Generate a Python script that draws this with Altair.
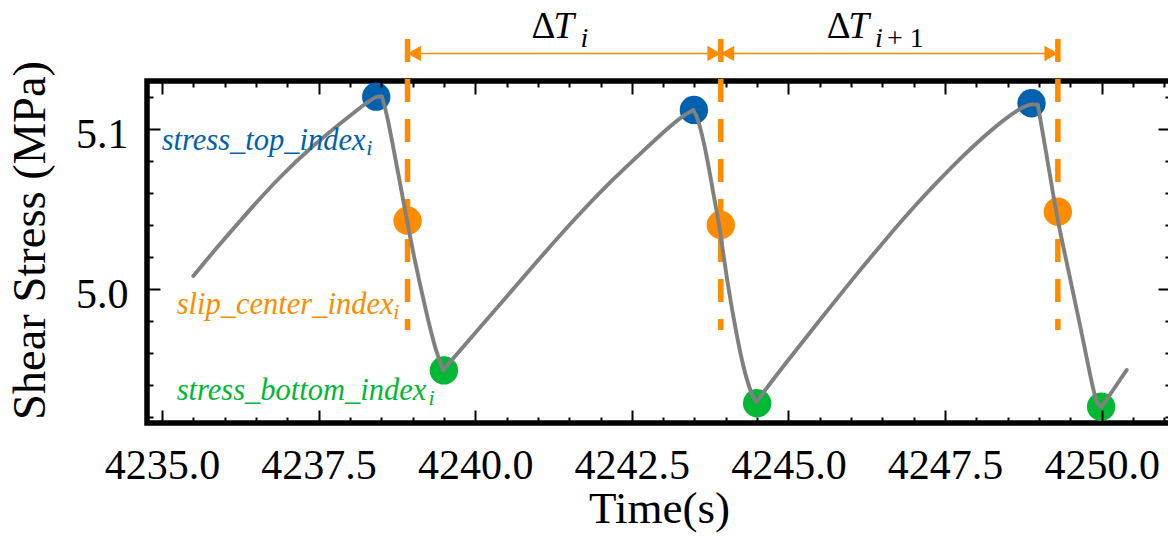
import altair as alt
import pandas as pd

# ---------------- data ----------------
time_s = [4235.50, 4235.82, 4236.35, 4236.88, 4237.42, 4237.95, 4238.27, 4238.43, 4238.51,
          4238.59, 4238.75, 4238.91, 4239.01, 4239.22, 4239.38, 4239.49,
          4239.97, 4240.50, 4241.03, 4241.57, 4242.10, 4242.64, 4243.16, 4243.38, 4243.48, 4243.56,
          4243.69, 4243.80, 4243.91, 4244.01, 4244.12, 4244.22, 4244.33, 4244.46, 4244.49,
          4244.91, 4245.46, 4245.99, 4246.52, 4247.05, 4247.58, 4248.11, 4248.53, 4248.85, 4248.98,
          4249.06, 4249.17, 4249.28, 4249.49, 4249.66, 4249.82, 4249.92, 4250.00,
          4250.40]
stress_mpa = [5.0083, 5.0235, 5.0475, 5.0704, 5.0902, 5.1069, 5.1168, 5.1208, 5.1204,
              5.1100, 5.0766, 5.0433, 5.0225, 4.9850, 4.9600, 4.9496,
              4.9714, 4.9954, 5.0194, 5.0433, 5.0652, 5.0850, 5.1038, 5.1100, 5.1120, 5.1069,
              5.0850, 5.0600, 5.0370, 5.0079, 4.9829, 4.9620, 4.9433, 4.9300, 4.9298,
              4.9516, 4.9788, 5.0048, 5.0298, 5.0538, 5.0756, 5.0954, 5.1090, 5.1163, 5.1152,
              5.0975, 5.0725, 5.0458, 5.0079, 4.9766, 4.9454, 4.9277, 4.9266,
              4.9496]
# indices of the sharp corners (stick / slip turning points) in the series above
corner_idx = [0, 8, 15, 24, 34, 44, 52, 53]

top_t = [4238.42, 4243.49, 4248.88]
top_v = [5.1204, 5.1121, 5.1163]
center_t = [4238.92, 4243.92, 4249.30]
center_v = [5.0429, 5.0402, 5.0485]
bottom_t = [4239.50, 4244.50, 4249.99]
bottom_v = [4.9493, 4.9288, 4.9266]

major_x = [4235.0, 4237.5, 4240.0, 4242.5, 4245.0, 4247.5, 4250.0]
minor_x = [4235.5, 4236.0, 4236.5, 4237.0, 4238.0, 4238.5, 4239.0, 4239.5,
           4240.5, 4241.0, 4241.5, 4242.0, 4243.0, 4243.5, 4244.0, 4244.5,
           4245.5, 4246.0, 4246.5, 4247.0, 4248.0, 4248.5, 4249.0, 4249.5,
           4250.5, 4251.0]
major_y = [5.0, 5.1]
minor_y = [4.92, 4.94, 4.96, 4.98, 5.02, 5.04, 5.06, 5.08, 5.12]

kinds = ["top", "center", "bottom"]
kind_colors = ["#0061ae", "#ff8c00", "#00b834"]
label_texts = ["stress_top_index", "slip_center_index", "stress_bottom_index"]

X_DOMAIN = [4234.761, 4251.106]
Y_DOMAIN = [4.91644, 5.13019]
DASH_TOP, DASH_BOTTOM = 5.1564, 4.9746
ARROW_V = 5.14738

FONT = "Liberation Serif"
ORANGE = "#ff8c00"

# ---------------- tables ----------------
rows = []
for s in range(len(corner_idx) - 1):
    for i in range(corner_idx[s], corner_idx[s + 1] + 1):
        rows.append({"t": time_s[i], "v": stress_mpa[i], "seg": s})
line_df = pd.DataFrame(rows)

dots_df = pd.DataFrame({
    "t": top_t + center_t + bottom_t,
    "v": top_v + center_v + bottom_v,
    "kind": ["top"] * 3 + ["center"] * 3 + ["bottom"] * 3,
})
dash_df = pd.DataFrame({"t": center_t, "v1": [DASH_TOP] * 3, "v0": [DASH_BOTTOM] * 3})
arrow_df = pd.DataFrame({"t0": center_t[:2], "t1": center_t[1:], "v": [ARROW_V] * 2})
head_left_df = pd.DataFrame({"t": center_t[:2], "v": [ARROW_V] * 2})
head_right_df = pd.DataFrame({"t": center_t[1:], "v": [ARROW_V] * 2})

label_df = pd.DataFrame({
    "text": label_texts,
    "t": [4234.995, 4235.235, 4235.235],
    "v": [5.08706, 4.98456, 4.93081],
    "kind": kinds,
})
label_sub_df = pd.DataFrame({
    "text": ["i", "i", "i"],
    "t": [4238.262, 4238.690, 4239.255],
    "v": [5.08394, 4.98144, 4.92769],
    "kind": kinds,
})
delta_df = pd.DataFrame({"text": ["Δ", "Δ"], "t": [4240.900, 4245.610], "v": [5.15688] * 2})
tee_df = pd.DataFrame({"text": ["T", "T"], "t": [4241.250, 4245.960], "v": [5.15688] * 2})
dsub_i_df = pd.DataFrame({"text": ["i", "i"], "t": [4241.680, 4246.380], "v": [5.15144] * 2})
dsub_p_df = pd.DataFrame({"text": ["+ 1"], "t": [4246.572], "v": [5.15144]})

# ---------------- scales & axes ----------------
xs = alt.Scale(domain=X_DOMAIN, nice=False, zero=False)
ys = alt.Scale(domain=Y_DOMAIN, nice=False, zero=False)
cs = alt.Scale(domain=kinds, range=kind_colors)

tick_style = dict(grid=False, domain=False, tickColor="black", tickWidth=2, zindex=1)


def tick_axis(orient, values, size):
    return alt.Axis(orient=orient, values=values, tickSize=size, offset=-size,
                    labels=False, title=None, **tick_style)


x_bottom_major = alt.Axis(
    orient="bottom", values=major_x, format=".1f", tickSize=13, offset=-13,
    labelFont=FONT, labelFontSize=42, labelColor="black", labelPadding=22,
    labelFlush=False, labelOverlap=False,
    title="Time(s)", titleFont=FONT, titleFontSize=45, titleFontWeight="normal",
    titleColor="black", titleBaseline="alphabetic", titleY=112, **tick_style)
y_left_major = alt.Axis(
    orient="left", values=major_y, format=".1f", tickSize=13, offset=-13,
    labelFont=FONT, labelFontSize=42, labelColor="black", labelPadding=19,
    labelOffset=5, labelFlush=False, labelOverlap=False,
    title="Shear Stress (MPa)", titleFont=FONT, titleFontSize=46.5,
    titleFontWeight="normal", titleColor="black", titleAngle=270,
    titleAlign="center", titleBaseline="alphabetic", titleX=-116, titleY=159,
    **tick_style)

# ---------------- layers ----------------
dashed = alt.Chart(dash_df).mark_rule(
    color=ORANGE, strokeWidth=5.5, strokeDash=[23, 17]
).encode(
    x=alt.X("t:Q", scale=xs, axis=x_bottom_major),
    y=alt.Y("v1:Q", scale=ys, axis=y_left_major),
    y2="v0:Q",
)

dots = alt.Chart(dots_df).mark_circle(size=804, opacity=1).encode(
    x=alt.X("t:Q", scale=xs, axis=tick_axis("bottom", minor_x, 6)),
    y=alt.Y("v:Q", scale=ys, axis=tick_axis("left", minor_y, 6)),
    color=alt.Color("kind:N", scale=cs, legend=None),
)

line = alt.Chart(line_df).mark_line(
    color="#808080", strokeWidth=3.9, strokeJoin="round", strokeCap="round",
    interpolate="basis"
).encode(
    x=alt.X("t:Q", scale=xs, axis=tick_axis("top", major_x, 13)),
    y=alt.Y("v:Q", scale=ys, axis=tick_axis("right", major_y, 13)),
    detail="seg:N",
)

arrows = alt.Chart(arrow_df).mark_rule(color=ORANGE, strokeWidth=1.6).encode(
    x=alt.X("t0:Q", scale=xs, axis=tick_axis("top", minor_x, 6)),
    x2="t1:Q",
    y=alt.Y("v:Q", scale=ys, axis=tick_axis("right", minor_y, 6)),
)

HEAD_RIGHT = "M0,0L-1.73,-1L-1.73,1Z"
HEAD_LEFT = "M0,0L1.73,-1L1.73,1Z"
heads_l = alt.Chart(head_left_df).mark_point(
    shape=HEAD_LEFT, size=240, filled=True, color=ORANGE, opacity=1, strokeWidth=0
).encode(x=alt.X("t:Q", scale=xs, axis=None), y=alt.Y("v:Q", scale=ys, axis=None))
heads_r = alt.Chart(head_right_df).mark_point(
    shape=HEAD_RIGHT, size=240, filled=True, color=ORANGE, opacity=1, strokeWidth=0
).encode(x=alt.X("t:Q", scale=xs, axis=None), y=alt.Y("v:Q", scale=ys, axis=None))


def text_layer(df, size, style, colored):
    enc = dict(
        x=alt.X("t:Q", scale=xs, axis=None),
        y=alt.Y("v:Q", scale=ys, axis=None),
        text="text:N",
    )
    kw = dict(font=FONT, fontSize=size, fontStyle=style, align="left", baseline="alphabetic")
    if colored:
        enc["color"] = alt.Color("kind:N", scale=cs, legend=None)
    else:
        kw["color"] = "black"
    return alt.Chart(df).mark_text(**kw).encode(**enc)


labels = text_layer(label_df, 30.5, "italic", True)
label_subs = text_layer(label_sub_df, 22, "italic", True)
deltas = text_layer(delta_df, 37, "normal", False)
tees = text_layer(tee_df, 37, "italic", False)
dsub_i = text_layer(dsub_i_df, 28, "italic", False)
dsub_p = text_layer(dsub_p_df, 28, "normal", False)

chart = alt.layer(
    dashed, dots, line, arrows, heads_l, heads_r,
    labels, label_subs, deltas, tees, dsub_i, dsub_p,
).resolve_axis(
    x="independent", y="independent"
).properties(
    width=1024, height=342,
    autosize=alt.AutoSizeParams(type="none"),
    padding={"left": 147, "top": 81, "right": -3, "bottom": 119},
).configure_view(
    stroke="black", strokeWidth=5.5
)

chart.save("out.html", embed_options={"renderer": "svg", "actions": False})
